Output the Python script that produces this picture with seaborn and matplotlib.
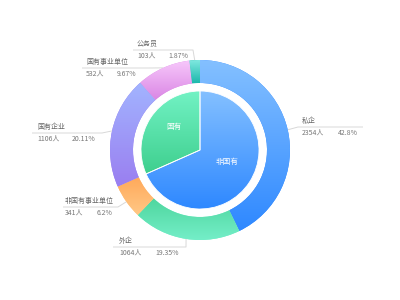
import numpy as np
import matplotlib
matplotlib.use("Agg")
import matplotlib.pyplot as plt
from matplotlib.colors import LinearSegmentedColormap
import seaborn as sns

sns.set_theme(style="white")
plt.rcParams['font.family'] = ['Noto Sans CJK SC', 'DejaVu Sans']

# ---- data ----
outer_names = ['私企', '外企', '非国有事业单位', '国有企业', '国有事业单位', '公务员']
outer_counts = [2354, 1064, 341, 1106, 532, 103]
outer_pcts = ['42.8%', '19.35%', '6.2%', '20.11%', '9.67%', '1.87%']
inner_names = ['非国有', '国有']
inner_counts = [3759, 1741]

# ---- styles ----
outer_grad = [('#84c0ff', '#2e88ff'),
              ('#4fd69e', '#74eec8'),
              ('#ffa95a', '#ffc886'),
              ('#a2b4ff', '#9a7ef0'),
              ('#f7c8fb', '#da86e4'),
              ('#84ebe2', '#1cb8ac')]
inner_grad = [('#84c0ff', '#2e88ff'), ('#72f2c4', '#3ecf8e')]

W, H = 400, 300
CX, CY, S = 200, 150, 90.0  # center px, px per data unit


def p2d(px, py):
    return ((px - CX) / S, (CY - py) / S)


fig = plt.figure(figsize=(4, 3), dpi=100)
ax = fig.add_axes([0, 0, 1, 1])
ax.set_xlim(-CX / S, (W - CX) / S)
ax.set_ylim(-(H - CY) / S, CY / S)
ax.set_aspect('equal')
ax.axis('off')

R_out, R_in_ring, R_pie = 1.0, 67 / S, 59 / S

outer_wedges, _ = ax.pie(outer_counts, radius=R_out, startangle=90, counterclock=False,
                         wedgeprops=dict(width=R_out - R_in_ring, edgecolor='none'))
inner_wedges, _ = ax.pie(inner_counts, radius=R_pie, startangle=90, counterclock=False,
                         wedgeprops=dict(edgecolor='white', linewidth=0.6))


def gradient_fill(wedge, c_top, c_bot):
    ext = wedge.get_path().get_extents()
    cmap = LinearSegmentedColormap.from_list('g', [c_top, c_bot])
    grad = np.linspace(0, 1, 256).reshape(-1, 1)
    im = ax.imshow(grad, cmap=cmap, aspect='auto', origin='upper',
                   extent=(ext.x0, ext.x1, ext.y0, ext.y1), zorder=wedge.get_zorder() + 0.1,
                   interpolation='bilinear')
    im.set_clip_path(wedge)
    wedge.set_facecolor(c_bot)


for w, (a, b) in zip(outer_wedges, outer_grad):
    gradient_fill(w, a, b)
for w, (a, b) in zip(inner_wedges, inner_grad):
    gradient_fill(w, a, b)
# separator line inside inner pie
for w in inner_wedges:
    w.set_zorder(w.get_zorder() + 0.2)
    w.set_facecolor('none')

ax.set_xlim(-CX / S, (W - CX) / S)
ax.set_ylim(-(H - CY) / S, CY / S)

# inner labels
for name, (px, py) in zip(inner_names, [(227, 162), (174, 127)]):
    x, y = p2d(px, py)
    ax.text(x, y, name, color='white', fontsize=5.5, ha='center', va='center', zorder=10)

# outer labels: (elbow px, line end px, text x px, pct x px)
layout = [((298, 127), (363, 127), 302, 338),
          ((186, 247), (113, 247), 119, 155),
          ((118, 207), (63, 207), 65, 97),
          ((102, 133), (32, 133), 37, 72),
          ((150, 68), (82, 68), 86, 117),
          ((193, 50), (133, 50), 137, 168)]

line_c = '#d8d8d8'
for w, name, cnt, pct, (elb, end, tx, pctx) in zip(outer_wedges, outer_names, outer_counts,
                                                     outer_pcts, layout):
    ang = np.deg2rad((w.theta1 + w.theta2) / 2)
    sx, sy = R_out * np.cos(ang), R_out * np.sin(ang)
    ex, ey = p2d(*elb)
    lx, ly = p2d(*end)
    ax.plot([sx, ex, lx], [sy, ey, ly], color=line_c, lw=0.7, zorder=1, solid_capstyle='butt')
    ly_px = end[1]
    x, y = p2d(tx, ly_px - 6)
    ax.text(x, y, name, color='#666666', fontsize=5, ha='left', va='center')
    x, y = p2d(tx, ly_px + 6)
    ax.text(x, y, f'{cnt}人', color='#777777', fontsize=5, ha='left', va='center')
    x, y = p2d(pctx, ly_px + 6)
    ax.text(x, y, pct, color='#777777', fontsize=5, ha='left', va='center')

fig.savefig('out.png', dpi=100)
